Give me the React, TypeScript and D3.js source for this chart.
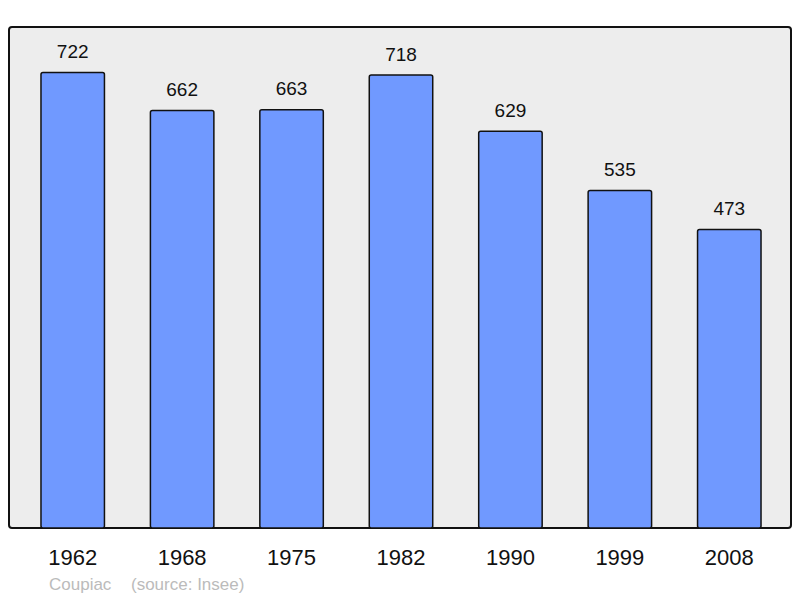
import * as d3 from 'd3'

const years = ['1962', '1968', '1975', '1982', '1990', '1999', '2008']
const population = [722, 662, 663, 718, 629, 535, 473]
const townName = 'Coupiac'
const sourceLabel = '(source: Insee)'

const WIDTH = 800
const HEIGHT = 598
const FRAME = { LEFT: 9, TOP: 27, RIGHT: 791, BOTTOM: 528 }

export default function App() {
  const x = d3.scaleBand()
    .domain(years)
    .range([18, 784])
    .paddingInner(0.42)
    .paddingOuter(0.21)

  const y = d3.scaleLinear()
    .domain([0, d3.max(population)! * 1.1])
    .range([FRAME.BOTTOM, FRAME.TOP])

  const font = 'Liberation Sans, Arial, sans-serif'

  return (
    <svg width={WIDTH} height={HEIGHT} style={{ position: 'absolute', left: 0, top: 0 }}>
      <rect
        x={FRAME.LEFT}
        y={FRAME.TOP}
        width={FRAME.RIGHT - FRAME.LEFT}
        height={FRAME.BOTTOM - FRAME.TOP}
        rx={3}
        fill="#ededed"
        stroke="#111"
        strokeWidth={2}
      />
      {years.map((yr, i) => (
        <g key={yr}>
          <rect
            x={x(yr)}
            y={y(population[i])}
            width={x.bandwidth()}
            height={y(0) - y(population[i])}
            rx={2}
            fill="#7099ff"
            stroke="#111"
            strokeWidth={1.5}
          />
          <text
            x={x(yr)! + x.bandwidth() / 2}
            y={y(population[i]) - 14.5}
            textAnchor="middle"
            fontFamily={font}
            fontSize={19}
            fill="#111"
          >
            {population[i]}
          </text>
          <text
            x={x(yr)! + x.bandwidth() / 2}
            y={565}
            textAnchor="middle"
            fontFamily={font}
            fontSize={22}
            fill="#111"
          >
            {yr}
          </text>
        </g>
      ))}
      <text x={49} y={590} fontFamily={font} fontSize={17} fill="#bbbbbb">
        {townName}
      </text>
      <text x={131} y={590} fontFamily={font} fontSize={17} fill="#bbbbbb">
        {sourceLabel}
      </text>
    </svg>
  )
}
